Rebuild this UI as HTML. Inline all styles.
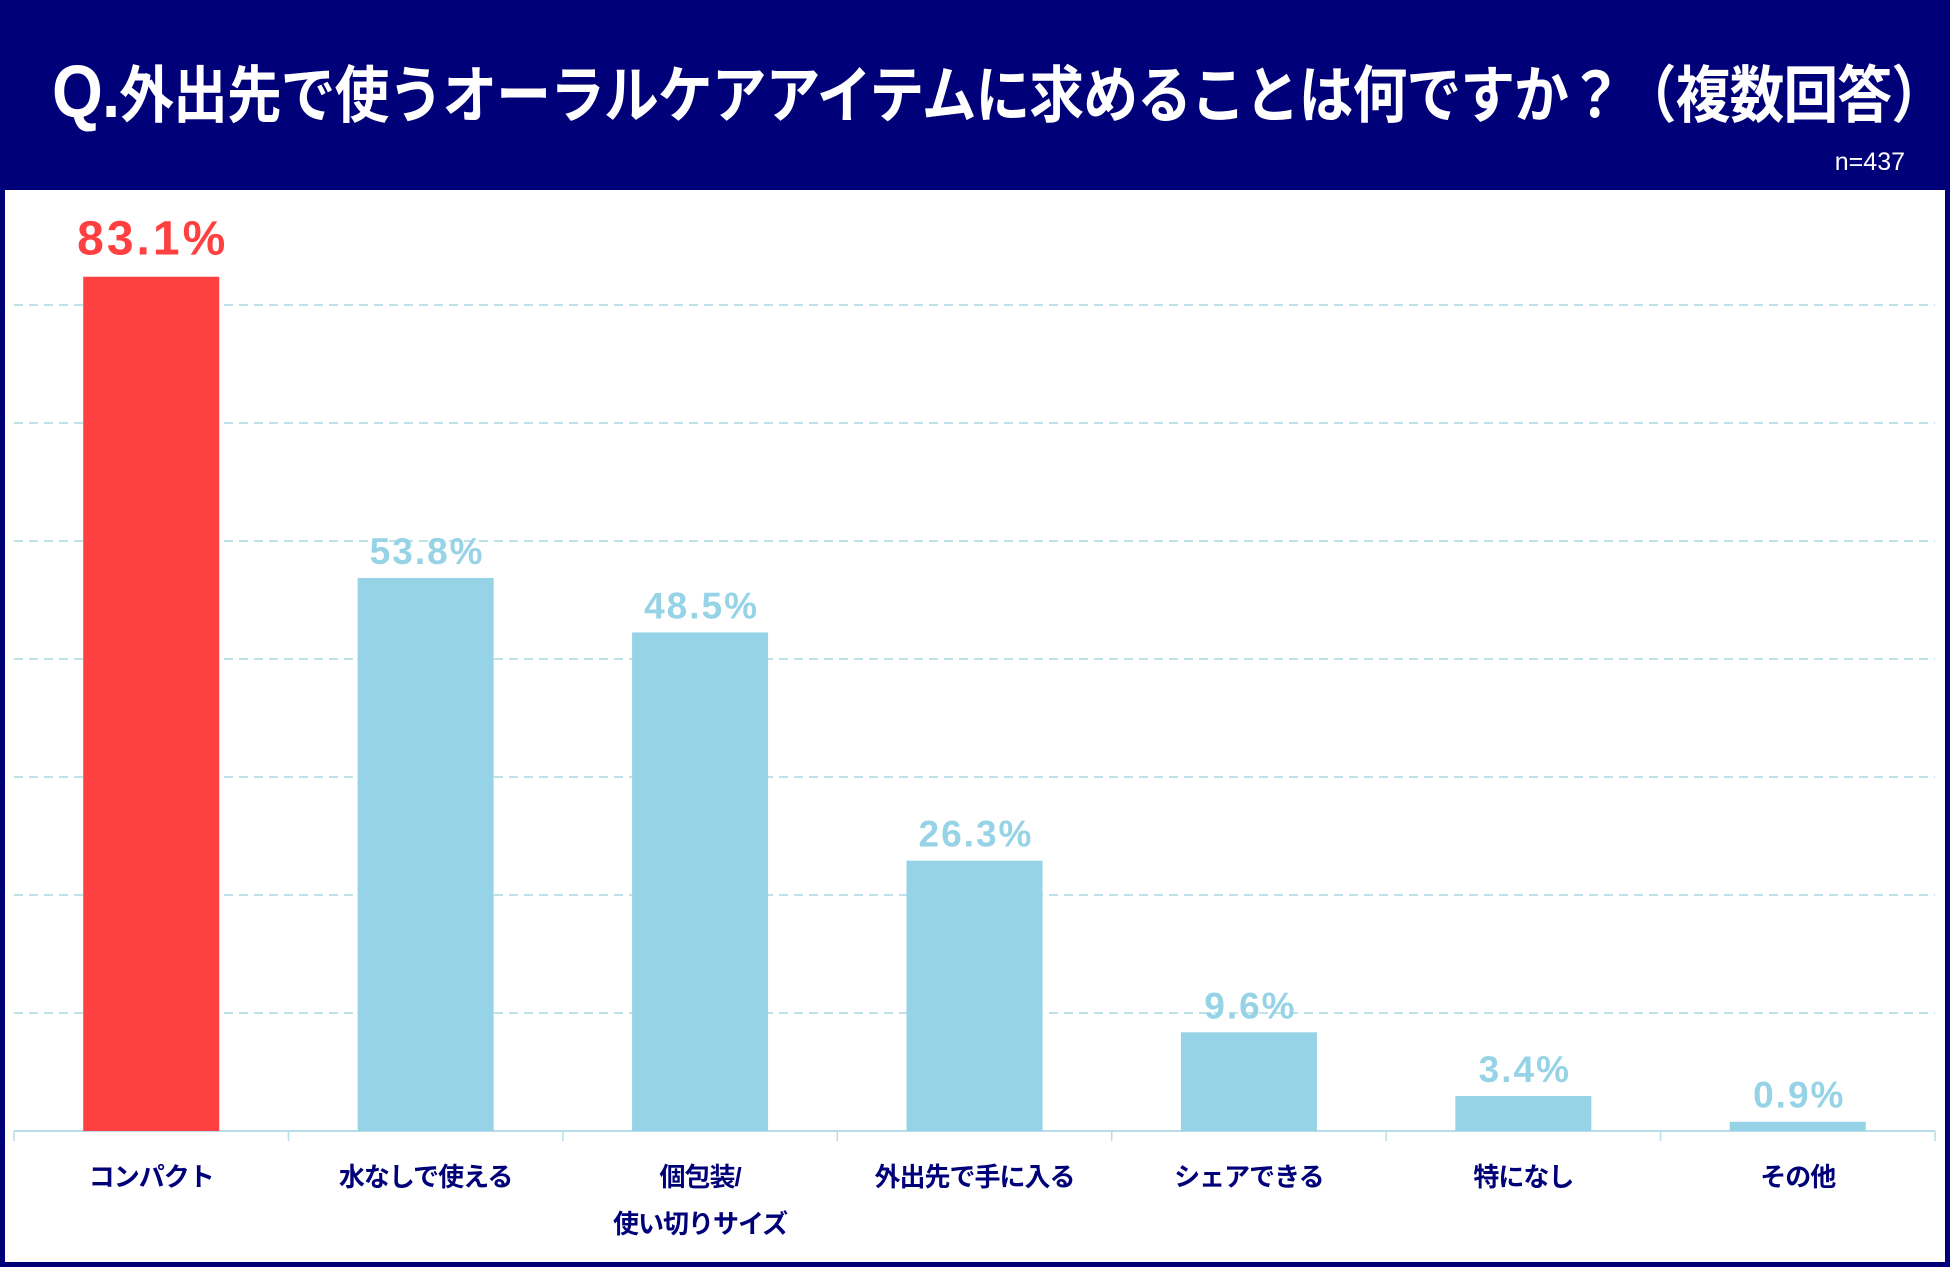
<!DOCTYPE html>
<html><head><meta charset="utf-8">
<style>
body{margin:0;width:1950px;height:1267px;overflow:hidden;background:#fff;font-family:"Liberation Sans","Noto Sans CJK JP",sans-serif;}
#frame{position:absolute;left:0;top:0;width:1950px;height:1267px;box-sizing:border-box;border:5px solid #000078;border-top:none;}
#header{position:absolute;left:0;top:0;width:1950px;height:190px;background:#000078;}
#title{position:absolute;left:52px;top:50px;color:#fff;font-weight:bold;font-size:62px;line-height:84px;white-space:nowrap;transform-origin:0 50%;transform:scaleX(0.883);letter-spacing:-1px;}
#n{position:absolute;right:45px;top:148px;color:#fff;font-size:25px;}
svg{position:absolute;left:0;top:0;}
</style></head><body>
<div id="frame"></div>
<div id="header">
<div id="title"><span style="font-size:74px">Q.</span>外出先で使うオーラルケアアイテムに求めることは何ですか？（複数回答）</div>
<div id="n">n=437</div>
</div>
<svg id="chart" width="1950" height="1267"></svg>
<script>
const categories=[["コンパクト"],["水なしで使える"],["個包装/","使い切りサイズ"],["外出先で手に入る"],["シェアできる"],["特になし"],["その他"]];
const values=[83.1,53.8,48.5,26.3,9.6,3.4,0.9];
const valueLabels=["83.1%","53.8%","48.5%","26.3%","9.6%","3.4%","0.9%"];
const gridSteps=[1,2,3,4,5,6,7];
const NS="http://www.w3.org/2000/svg";
const svg=document.getElementById('chart');
const left=14,right=1935,base=1131,pxPer=10.28,bw=136;
const band=(right-left)/categories.length;
const x=i=>left+band*(i+0.5);
const y=v=>base-v*pxPer;
function mk(t,a){const e=document.createElementNS(NS,t);for(const k in a)e.setAttribute(k,a[k]);svg.appendChild(e);return e;}
gridSteps.forEach(s=>{
  const g=mk('line',{x1:left,x2:right,y1:base-s*118,y2:base-s*118,stroke:'#a8d8e4','stroke-width':1.5,'stroke-dasharray':'9,6'});
  
  
});
const ax=mk('line',{x1:left,x2:right,y1:base,y2:base,stroke:'#b8dce8','stroke-width':2});


for(let i=0;i<=categories.length;i++){
  const t=mk('line',{x1:left+band*i,x2:left+band*i,y1:base,y2:base+10,stroke:'#b8dce8','stroke-width':1.5});
  
  
}
values.forEach((v,i)=>{
  const col=i===0?'#ff4040':'#96d3e6';
  const r=mk('rect',{x:x(i)-bw/2,y:y(v),width:bw,height:base-y(v),fill:col});
  
  
  const t=mk('text',{x:x(i)+1.5,y:y(v)-(i===0?22:14),'text-anchor':'middle',fill:col,'font-weight':'bold','font-size':i===0?48:37,'letter-spacing':i===0?3:2,'font-family':'"Liberation Sans","Noto Sans CJK JP",sans-serif'});
  t.textContent=valueLabels[i];
  
  
  categories[i].forEach((ln,j)=>{
    const c=mk('text',{x:x(i),y:1186+j*47,'text-anchor':'middle',fill:'#000078','font-weight':'bold','font-size':26,'letter-spacing':-1,'font-family':'"Liberation Sans","Noto Sans CJK JP",sans-serif'});
    c.textContent=ln;
    
    
  });
});
</script>
</body></html>
